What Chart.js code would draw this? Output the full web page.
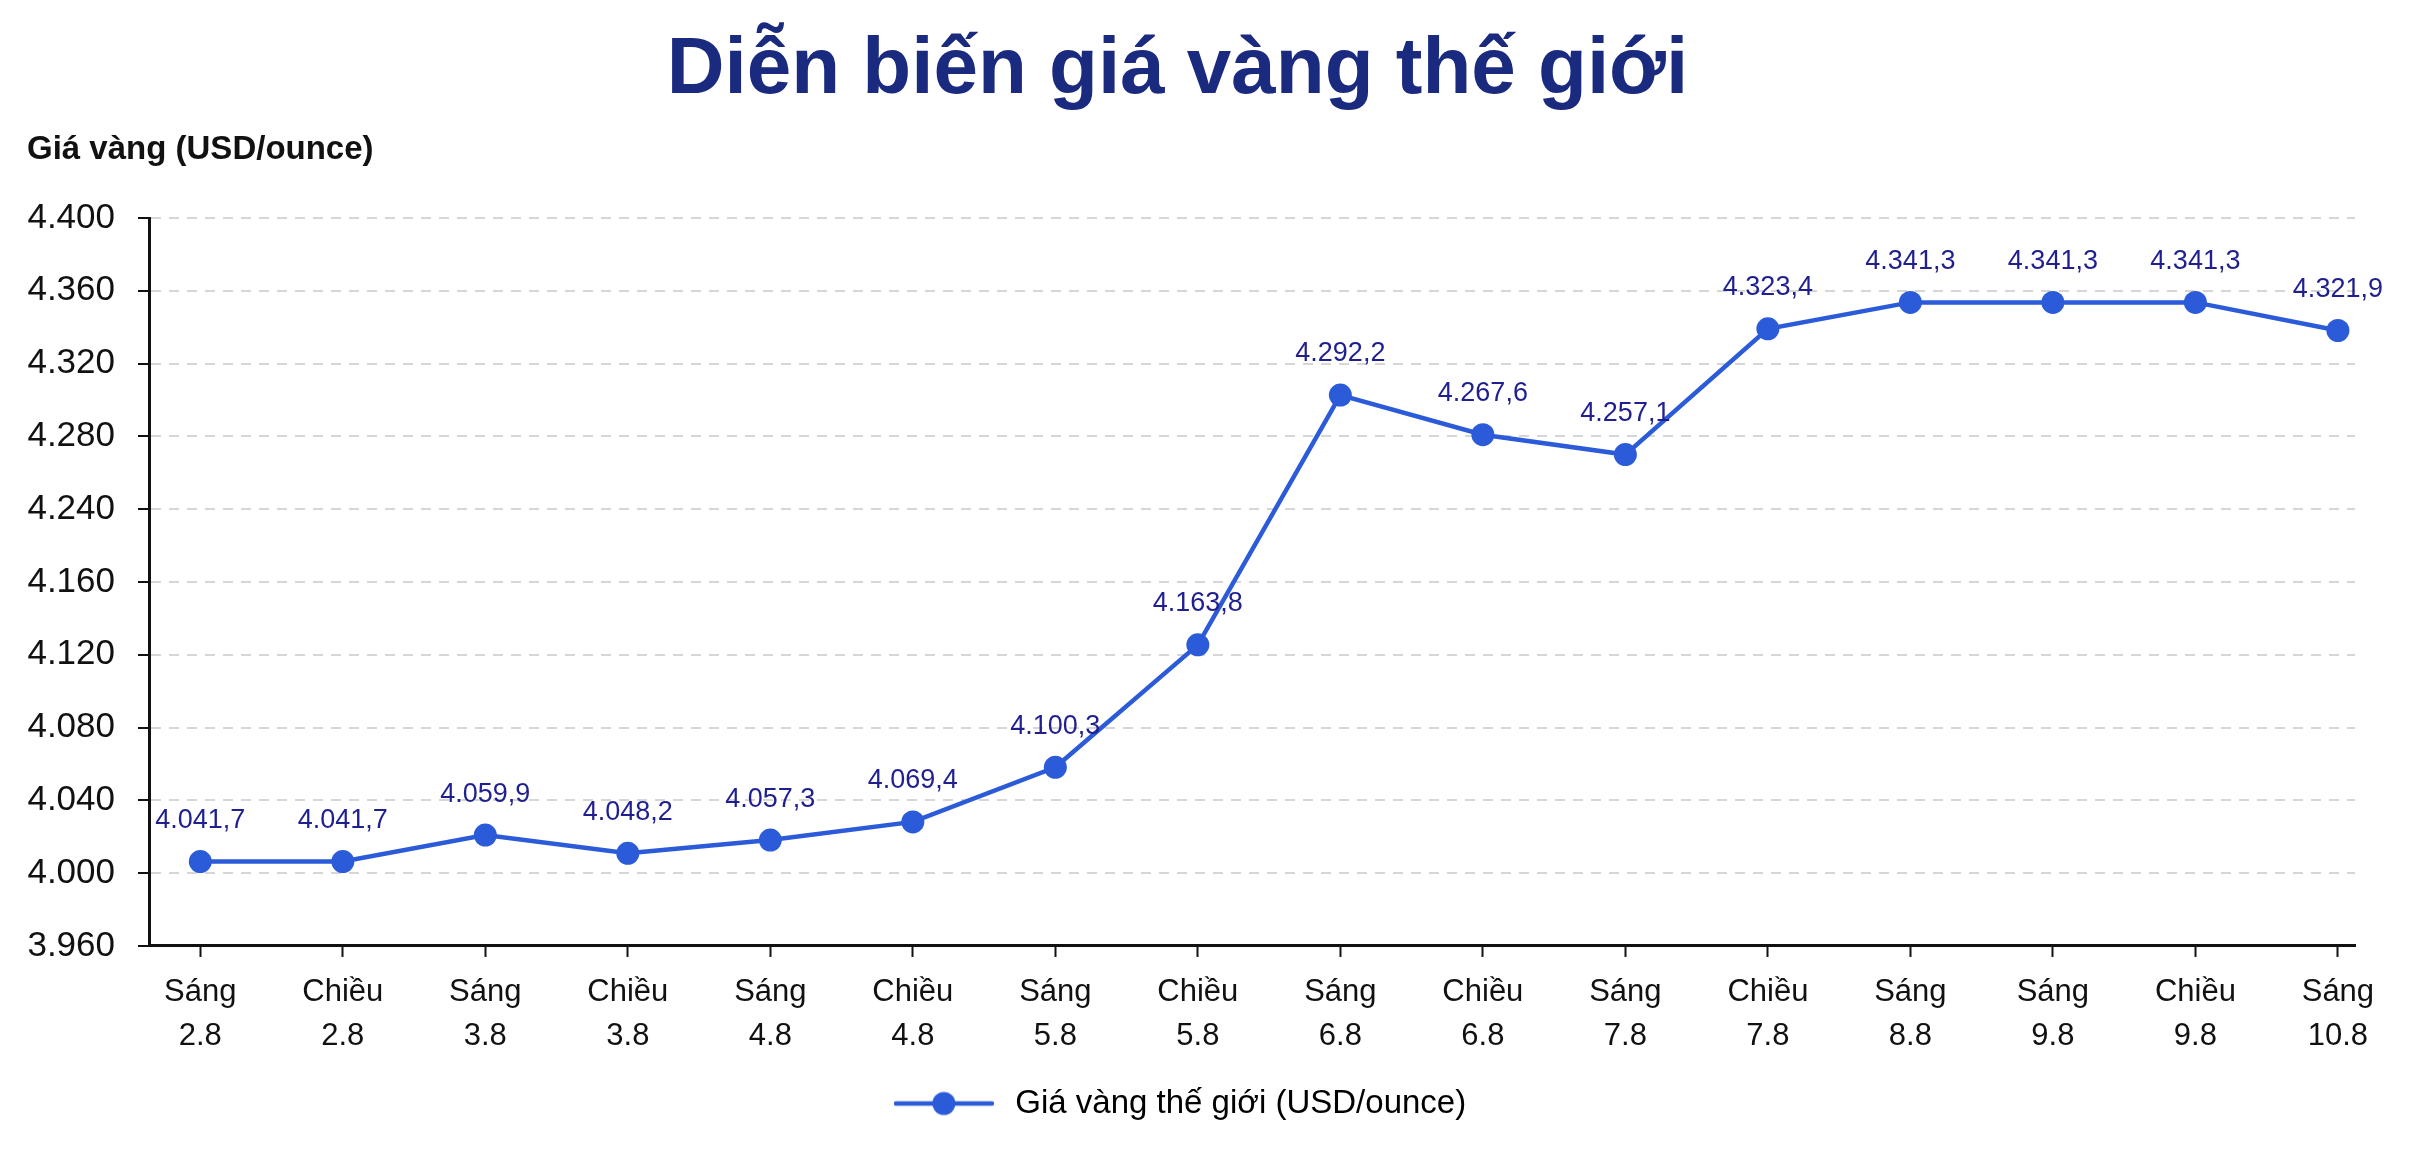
<!DOCTYPE html>
<html>
<head>
<meta charset="utf-8">
<script src="https://cdn.jsdelivr.net/npm/chart.js@4.4.1/dist/chart.umd.min.js"></script>
<style>
  html, body { margin: 0; padding: 0; background: #ffffff; }
  #wrap { width: 2410px; height: 1152px; position: relative; }
</style>
</head>
<body>
<div id="wrap"><canvas id="c" width="2410" height="1152"></canvas></div>
<script>
// ---- data ----
const sessions = ['Sáng','Chiều','Sáng','Chiều','Sáng','Chiều','Sáng','Chiều','Sáng','Chiều','Sáng','Chiều','Sáng','Sáng','Chiều','Sáng'];
const dates = ['2.8','2.8','3.8','3.8','4.8','4.8','5.8','5.8','6.8','6.8','7.8','7.8','8.8','9.8','9.8','10.8'];
// plotted positions
const goldValues = [4011, 4011, 4027, 4016, 4024, 4035, 4068, 4142, 4293, 4269, 4257, 4333, 4349, 4349, 4349, 4332];
// printed data labels
const goldLabels = ['4.041,7','4.041,7','4.059,9','4.048,2','4.057,3','4.069,4','4.100,3','4.163,8','4.292,2','4.267,6','4.257,1','4.323,4','4.341,3','4.341,3','4.341,3','4.321,9'];
// y tick labels, bottom to top, as printed
const yTickLabels = ['3.960','4.000','4.040','4.080','4.120','4.160','4.240','4.280','4.320','4.360','4.400'];
const chartTitle = 'Diễn biến giá vàng thế giới';
const yAxisTitle = 'Giá vàng (USD/ounce)';
const seriesName = 'Giá vàng thế giới (USD/ounce)';

const FONT = "'Liberation Sans', Arial, Helvetica, sans-serif";
const LINE_BLUE = '#2b5bd8';
const LABEL_NAVY = '#1f1f8f';

const yMin = 3960, yMax = 4400, yStep = (yMax - yMin) / (yTickLabels.length - 1);

// legend symbol: line with a dot
const sym = document.createElement('canvas');
sym.width = 100; sym.height = 26;
(function () {
  const g = sym.getContext('2d');
  g.strokeStyle = LINE_BLUE; g.lineWidth = 4.5; g.lineCap = 'round';
  g.beginPath(); g.moveTo(2, 13); g.lineTo(98, 13); g.stroke();
  g.fillStyle = LINE_BLUE;
  g.beginPath(); g.arc(50, 13, 11.5, 0, Math.PI * 2); g.fill();
})();

const dataLabelPlugin = {
  id: 'dataLabels',
  afterDatasetsDraw(chart) {
    const meta = chart.getDatasetMeta(0);
    const ctx = chart.ctx;
    ctx.save();
    ctx.font = '27px ' + FONT;
    ctx.fillStyle = LABEL_NAVY;
    ctx.textAlign = 'center';
    ctx.textBaseline = 'middle';
    meta.data.forEach((pt, i) => {
      ctx.fillText(goldLabels[i], pt.x, pt.y - 41);
    });
    ctx.restore();
  }
};

const yTitlePlugin = {
  id: 'yTitle',
  afterDraw(chart) {
    const ctx = chart.ctx;
    ctx.save();
    ctx.font = 'bold 33px ' + FONT;
    ctx.fillStyle = '#111111';
    ctx.textAlign = 'left';
    ctx.textBaseline = 'middle';
    ctx.fillText(yAxisTitle, 27, 150);
    ctx.restore();
  }
};

new Chart(document.getElementById('c'), {
  type: 'line',
  data: {
    datasets: [{
      label: seriesName,
      data: goldValues.map((v, i) => ({ x: i, y: v })),
      borderColor: LINE_BLUE,
      backgroundColor: LINE_BLUE,
      borderWidth: 4.5,
      pointRadius: 11.5,
      pointHoverRadius: 11.5,
      pointBackgroundColor: LINE_BLUE,
      pointBorderWidth: 0,
      tension: 0
    }]
  },
  options: {
    responsive: false,
    animation: false,
    devicePixelRatio: 1,
    layout: { padding: { left: 0, right: 55, top: 0, bottom: 22 } },
    plugins: {
      title: {
        display: true,
        text: chartTitle,
        color: '#1a2a7e',
        font: { family: FONT, size: 80, weight: 'bold', lineHeight: 1.2 },
        padding: { top: 23, bottom: 99 }
      },
      legend: {
        display: true,
        position: 'bottom',
        labels: {
          usePointStyle: true,
          pointStyleWidth: 110,
          color: '#111111',
          font: { family: FONT, size: 33 },
          padding: 10,
          generateLabels: () => [{
            text: seriesName,
            pointStyle: sym,
            fillStyle: LINE_BLUE,
            strokeStyle: LINE_BLUE,
            lineWidth: 0,
            hidden: false,
            datasetIndex: 0
          }]
        }
      },
      tooltip: { enabled: false }
    },
    scales: {
      x: {
        type: 'linear',
        min: -0.36,
        max: 15.12,
        afterBuildTicks: (scale) => { scale.ticks = dates.map((_, i) => ({ value: i })); },
        afterFit: (scale) => { scale.height += 6; },
        ticks: {
          autoSkip: false,
          maxRotation: 0,
          color: '#111111',
          font: { family: FONT, size: 31, lineHeight: 1.42 },
          padding: 13,
          callback: (v) => [sessions[v], dates[v]]
        },
        grid: { drawOnChartArea: false, drawTicks: true, tickLength: 11, tickColor: '#111111', tickWidth: 2 },
        border: { display: true, color: '#111111', width: 3 }
      },
      y: {
        min: yMin,
        max: yMax,
        afterBuildTicks: (scale) => { scale.ticks = yTickLabels.map((_, i) => ({ value: yMin + i * yStep })); },
        afterFit: (scale) => { scale.width = 149; },
        ticks: {
          color: '#111111',
          font: { family: FONT, size: 35 },
          padding: 23,
          callback: (v, i) => yTickLabels[i]
        },
        grid: {
          color: '#d6d6d6',
          lineWidth: 2,
          drawTicks: true,
          tickLength: 11,
          tickColor: '#111111',
          tickWidth: 2,
          tickBorderDash: []
        },
        border: { display: true, color: '#111111', width: 3, dash: [10, 8] }
      }
    }
  },
  plugins: [dataLabelPlugin, yTitlePlugin]
});
</script>
</body>
</html>
